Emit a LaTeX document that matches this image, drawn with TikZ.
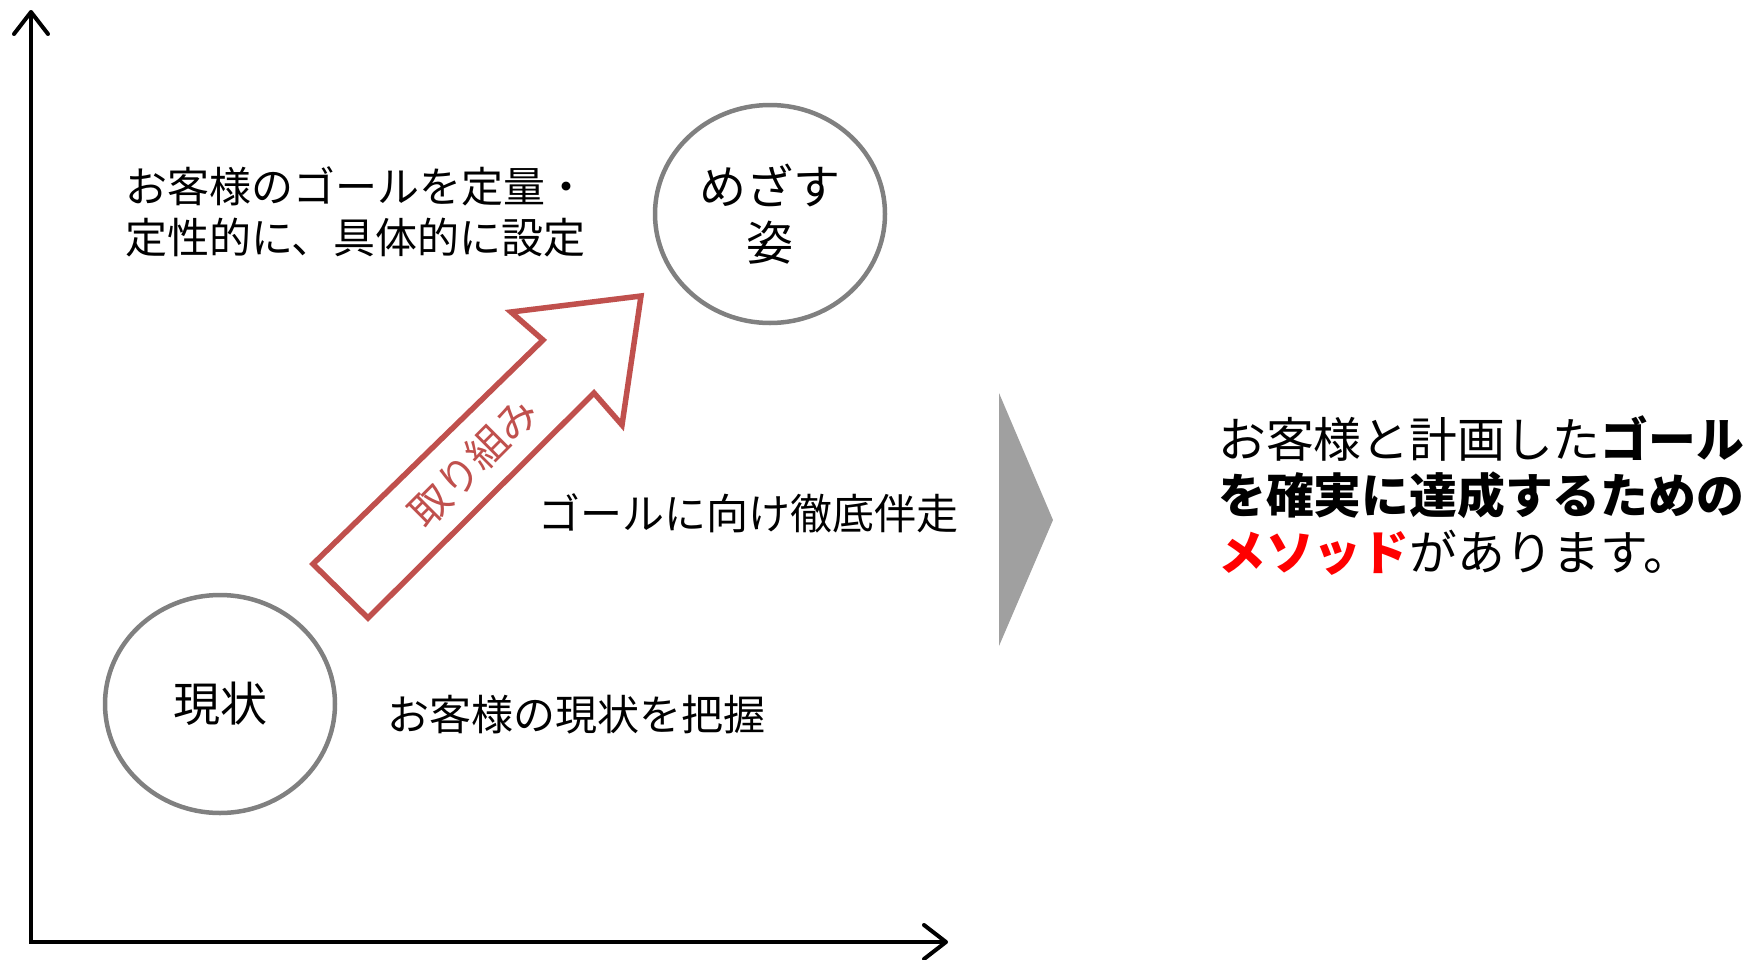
\documentclass[tikz,border=0pt]{standalone}
\usepackage{fontspec}
\setmainfont{Noto Sans CJK JP}
\usetikzlibrary{arrows.meta,shapes.geometric}
\definecolor{arrowred}{HTML}{C0504D}
\definecolor{circgray}{HTML}{808080}
\definecolor{trigray}{HTML}{A0A0A0}
\definecolor{accentred}{HTML}{FF0000}
\begin{document}
\begin{tikzpicture}[x=1pt,y=-1pt,
  axis/.style={line width=4pt, line join=miter,
    {Straight Barb[length=22pt,width=34pt,round]}-{Straight Barb[length=22pt,width=34pt,round]}},
  circ/.style={ellipse, draw=circgray, line width=4.5pt, minimum width=230pt,
    minimum height=218pt, inner sep=0pt, align=center, font=\fontsize{47}{56}\selectfont},
  lbl/.style={font=\fontsize{42}{51}\selectfont, align=left, inner sep=0pt, anchor=base west},
  blockarrow/.style={draw=arrowred, line width=5.5pt, line join=miter, fill=white},
  arrowtext/.style={rotate=45, text=arrowred, font=\fontsize{41}{41}\selectfont, inner sep=0pt},
  msgtext/.style={font=\fontsize{47.8}{56.5}\selectfont, align=left, inner sep=0pt, anchor=base west}
]
\useasboundingbox (0,0) rectangle (1749,959);
% axes
\coordinate (ytop) at (31,10);
\coordinate (origin) at (31,942);
\coordinate (xend) at (948,942);
\draw[axis] (ytop) -- (origin) -- (xend);
% block arrow
\draw[blockarrow] (313,564) -- (543,340) -- (511,312) -- (641,296) -- (622,425)
  -- (594,393) -- (368,618) -- cycle;
\node[arrowtext] (effort) at (473,462) {取り組み};
% circles
\node[circ] (now) at (220,704) {現状};
\node[circ] (goal) at (770,214) {めざす\\姿};
% labels (base anchor = baseline of the last line)
\node[lbl] (goaltext) at (125,253) {お客様のゴールを定量・\\定性的に、具体的に設定};
\node[lbl] (runtext) at (538,529) {ゴールに向け徹底伴走};
\node[lbl] (nowtext) at (387,730) {お客様の現状を把握};
% gray triangle
\fill[trigray] (999,393) -- (1053,520) -- (999,646) -- cycle;
% message
\node[msgtext] (msg) at (1218,570) {お客様と計画した\textbf{ゴール}\\\textbf{を確実に達成するための}\\\textcolor{accentred}{\textbf{メソッド}}があります。};
\end{tikzpicture}
\end{document}
